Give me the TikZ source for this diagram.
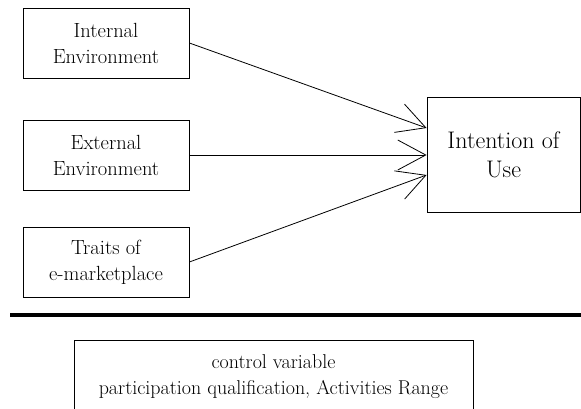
\documentclass[tikz,border=0pt]{standalone}
\usetikzlibrary{arrows.meta}
\begin{document}
\begin{tikzpicture}[x=1pt,y=-1pt,
    factor/.style={draw,line width=0.8pt,minimum width=166pt,minimum height=70pt,align=center,font=\fontsize{20.5}{26}\selectfont},
    effect/.style={draw,line width=0.8pt,minimum width=153pt,minimum height=115pt,align=center,font=\fontsize{24}{29}\selectfont},
    arr/.style={line width=0.8pt,-{Straight Barb[length=28pt,width=30pt,line width=0.8pt]}}]
    \useasboundingbox (0,0) rectangle (581,409);
    \clip (0,0) rectangle (581,409);
    \node[factor] (int) at (106,43) {Internal\\Environment};
    \node[factor] (ext) at (106,155) {External\\Environment};
    \node[factor] (trt) at (106,262) {Traits of\\e-marketplace};
    \node[effect] (use) at (503.5,155) {Intention of\\Use};
    \draw[arr] (int.east) -- ([yshift=27pt]use.west);
    \draw[arr] (ext.east) -- (use.west);
    \draw[arr] (trt.east) -- ([yshift=-20pt]use.west);
    \draw[line width=3.2pt] (10,315) -- (581,315);
    \node[draw,line width=0.8pt,anchor=north,minimum width=399pt,minimum height=72pt,align=center,font=\fontsize{20}{26}\selectfont] (ctl) at (273.5,340) {control variable\\participation qualification, Activities Range};
\end{tikzpicture}
\end{document}
